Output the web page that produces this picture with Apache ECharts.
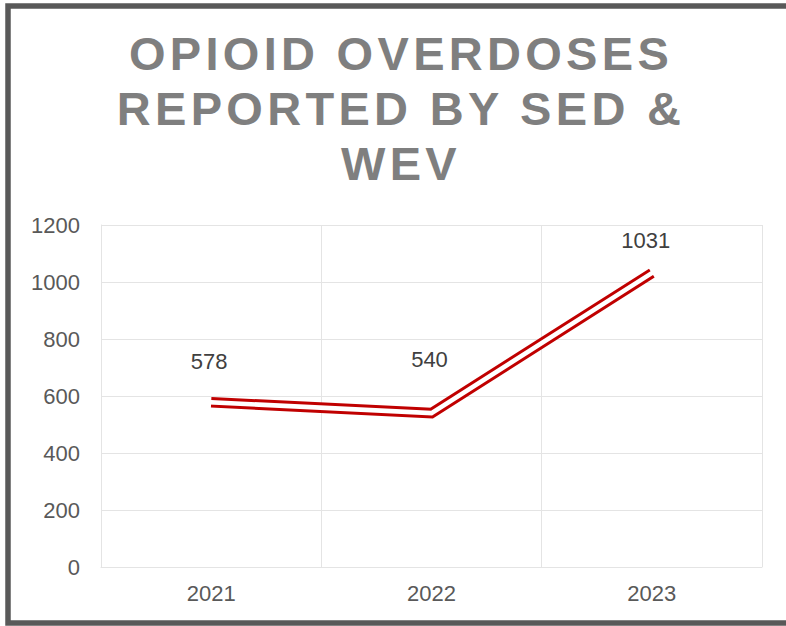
<!DOCTYPE html>
<html>
<head>
<meta charset="utf-8">
<script src="https://cdn.jsdelivr.net/npm/echarts@6/dist/echarts.min.js"></script>
<style>
  html, body { margin: 0; padding: 0; background: #ffffff; }
  #chart { width: 786px; height: 626px; }
  /* spaced-out capitals for the heading */
  #chart text[style*="47px"] { letter-spacing: 4.3px; }
</style>
</head>
<body>
<div id="chart"></div>
<script>
// Reported opioid overdoses per year
const years = ['2021', '2022', '2023'];
const overdoses = [578, 540, 1031];
const yTicks = { min: 0, max: 1200, interval: 200 };

// value label placement per point: [gap above point, horizontal shift]
const labelGap = [29, 42, 21];
const labelShift = [-2, -2, -6];

const titleLines = ['OPIOID OVERDOSES', 'REPORTED BY SED &', 'WEV'];
const font = "'Liberation Sans', Arial, sans-serif";
const red = '#c00000';
const gridColor = '#e4e4e4';

const chart = echarts.init(document.getElementById('chart'), null, { renderer: 'svg' });

const labelled = overdoses.map((v, i) => ({
  value: v,
  label: {
    show: true,
    position: 'top',
    distance: labelGap[i],
    offset: [labelShift[i], 0]
  }
}));

chart.setOption({
  animation: false,
  backgroundColor: '#ffffff',
  graphic: [
    {
      type: 'text',
      x: 401,
      y: 26,
      style: {
        text: titleLines.join('\n'),
        align: 'center',
        verticalAlign: 'top',
        fontFamily: font,
        fontSize: 47,
        fontWeight: 'bold',
        fill: '#7f7f7f',
        lineHeight: 55
      },
      silent: true
    },
    {
      type: 'rect',
      shape: { x: 8, y: 6, width: 800, height: 617 },
      style: { fill: 'none', stroke: '#595959', lineWidth: 5.5 },
      silent: true,
      z: 100
    }
  ],
  grid: { left: 101, right: 24, top: 225, bottom: 59, containLabel: false },
  xAxis: {
    type: 'category',
    data: years,
    boundaryGap: true,
    axisLine: { show: true, lineStyle: { color: gridColor, width: 1 } },
    axisTick: { show: false },
    splitLine: { show: true, lineStyle: { color: gridColor, width: 1 } },
    axisLabel: { color: '#595959', fontFamily: font, fontSize: 22, margin: 15 }
  },
  yAxis: {
    type: 'value',
    min: yTicks.min,
    max: yTicks.max,
    interval: yTicks.interval,
    axisLine: { show: true, lineStyle: { color: gridColor, width: 1 } },
    axisTick: { show: false },
    splitLine: { show: true, lineStyle: { color: gridColor, width: 1 } },
    axisLabel: {
      color: '#595959', fontFamily: font, fontSize: 22, margin: 21,
      formatter: v => String(v)
    }
  },
  series: [
    {
      // outer red stroke of the double line
      type: 'line',
      data: overdoses,
      symbol: 'none',
      lineStyle: { color: red, width: 10.5, cap: 'butt', join: 'miter' },
      z: 2
    },
    {
      // white core that splits it into two rails; carries the value labels
      type: 'line',
      data: labelled,
      symbol: 'circle',
      symbolSize: 1,
      showSymbol: true,
      itemStyle: { color: 'rgba(255,255,255,0)' },
      lineStyle: { color: '#ffffff', width: 4.5, cap: 'square', join: 'miter' },
      label: { color: '#404040', fontFamily: font, fontSize: 22 },
      z: 3
    }
  ]
});
</script>
</body>
</html>
